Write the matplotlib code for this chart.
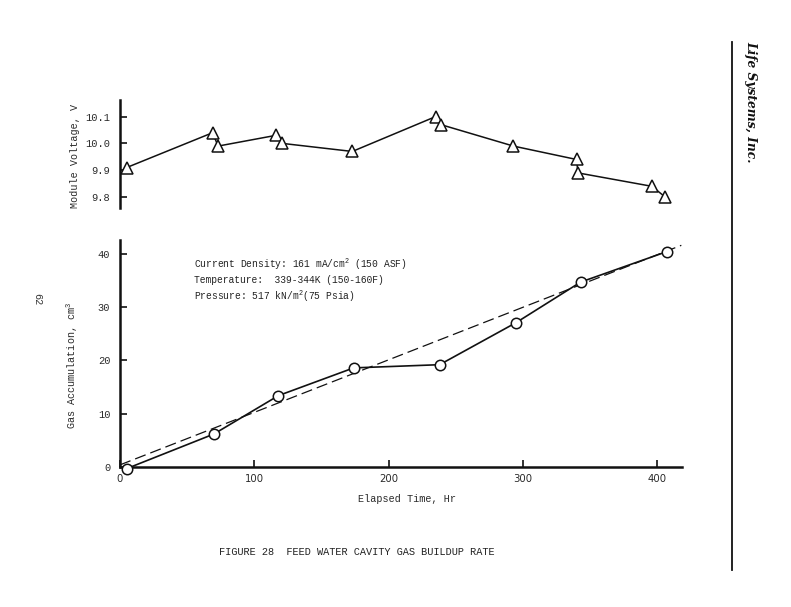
import matplotlib
matplotlib.use("Agg")
import matplotlib.pyplot as plt
from matplotlib.lines import Line2D

# ---- data ----
volt_hours = [5, 69, 73, 116, 121, 173, 235, 239, 293, 340, 341, 396, 406]
volt_values = [9.91, 10.04, 9.99, 10.03, 10.00, 9.97, 10.10, 10.07, 9.99, 9.94, 9.89, 9.84, 9.80]

gas_hours = [5, 70, 118, 174, 238, 295, 343, 407]
gas_values = [-0.3, 6.2, 13.4, 18.6, 19.2, 27.1, 34.7, 40.4]

trend_hours = [0, 418]
trend_values = [0.4, 41.6]

x_ticks = [0, 100, 200, 300, 400]
volt_ticks = [9.8, 9.9, 10.0, 10.1]
gas_ticks = [0, 10, 20, 30, 40]

notes = ["Current Density: 161 mA/cm$^2$ (150 ASF)",
         "Temperature:  339-344K (150-160F)",
         "Pressure: 517 kN/m$^2$(75 Psia)"]

MONO = "Liberation Mono"
SANS = "DejaVu Sans"
plt.rcParams["mathtext.fontset"] = "custom"
plt.rcParams["mathtext.rm"] = MONO

W, H = 791, 607
fig = plt.figure(figsize=(W / 100, H / 100), dpi=100)
fig.patch.set_facecolor("white")

def box(l, t, r, b):
    return [l / W, 1 - b / H, (r - l) / W, (b - t) / H]

ink = "#111111"
txt = "#2a2a2a"

# ---- upper axes: module voltage ----
ax1 = fig.add_axes(box(120, 100, 682, 208))
ax1.plot(volt_hours, volt_values, color=ink, lw=1.1, marker="^", ms=8.5,
         mfc="white", mec=ink, mew=1.1, clip_on=False, zorder=3)
ax1.set_xlim(0, 418.5)
ax1.set_ylim(9.759, 10.162)
for s in ["top", "right", "bottom"]:
    ax1.spines[s].set_visible(False)
ax1.spines["left"].set_linewidth(1.8)
ax1.spines["left"].set_color(ink)
ax1.set_xticks([])
ax1.set_yticks(volt_ticks)
ax1.set_yticklabels(["%.1f" % v for v in volt_ticks], fontfamily=MONO, fontsize=7.5, color=txt)
ax1.tick_params(axis="y", direction="in", length=5, width=1.2, pad=7, color=ink)
ax1.set_ylabel("Module Voltage, V", fontfamily=MONO, fontsize=7.3, color=txt)
ax1.yaxis.set_label_coords(-0.072, 0.48)

# ---- lower axes: gas accumulation ----
ax2 = fig.add_axes(box(120, 240, 682, 467))
ax2.plot(trend_hours, trend_values, color=ink, lw=0.9, ls=(0, (9, 4)), zorder=2)
ax2.plot(gas_hours, gas_values, color=ink, lw=1.2, marker="o", ms=7.5,
         mfc="white", mec=ink, mew=1.1, clip_on=False, zorder=3)
ax2.set_xlim(0, 418.5)
ax2.set_ylim(0, 42.6)
for s in ["top", "right"]:
    ax2.spines[s].set_visible(False)
for s in ["left", "bottom"]:
    ax2.spines[s].set_linewidth(1.8)
    ax2.spines[s].set_color(ink)
ax2.set_xticks(x_ticks)
ax2.set_xticklabels([str(v) for v in x_ticks], fontfamily=SANS, fontsize=7.3, color=txt)
ax2.set_yticks(gas_ticks)
ax2.set_yticklabels([str(v) for v in gas_ticks], fontfamily=MONO, fontsize=7.5, color=txt)
ax2.tick_params(axis="both", direction="in", length=5, width=1.2, color=ink)
ax2.tick_params(axis="y", pad=7)
ax2.tick_params(axis="x", pad=5)
ax2.set_ylabel("Gas Accumulation, cm$^3$", fontfamily=MONO, fontsize=7.3, color=txt)
ax2.yaxis.set_label_coords(-0.072, 0.45)
ax2.set_xlabel("Elapsed Time, Hr", fontfamily=MONO, fontsize=7.3, color=txt)
ax2.xaxis.set_label_coords(0.51, -0.12)

for i, t in enumerate(notes):
    ax2.text(55, 38.1 - 3.0 * i, t, fontfamily=MONO, fontsize=6.9,
             color="#222222", va="center", ha="left")

# ---- page decorations ----
fig.text(357 / W, 1 - 552 / H, "FIGURE 28  FEED WATER CAVITY GAS BUILDUP RATE",
         fontfamily=MONO, fontsize=7.4, color="#222222", ha="center", va="center")
fig.text(37 / W, 1 - 299 / H, "62", fontfamily=MONO, fontsize=7.3, color="#333333",
         rotation=-90, ha="center", va="center")
fig.text(751 / W, 1 - 41 / H, "Life Systems, Inc.", fontfamily="DejaVu Serif",
         fontsize=8.8, fontstyle="italic", fontweight="bold", color="#111111",
         rotation=-90, ha="center", va="top")
fig.add_artist(Line2D([732 / W, 732 / W], [1 - 42 / H, 1 - 570 / H],
                      transform=fig.transFigure, color="#111111", lw=1.3))

fig.savefig("out.png", dpi=100, facecolor="white")
